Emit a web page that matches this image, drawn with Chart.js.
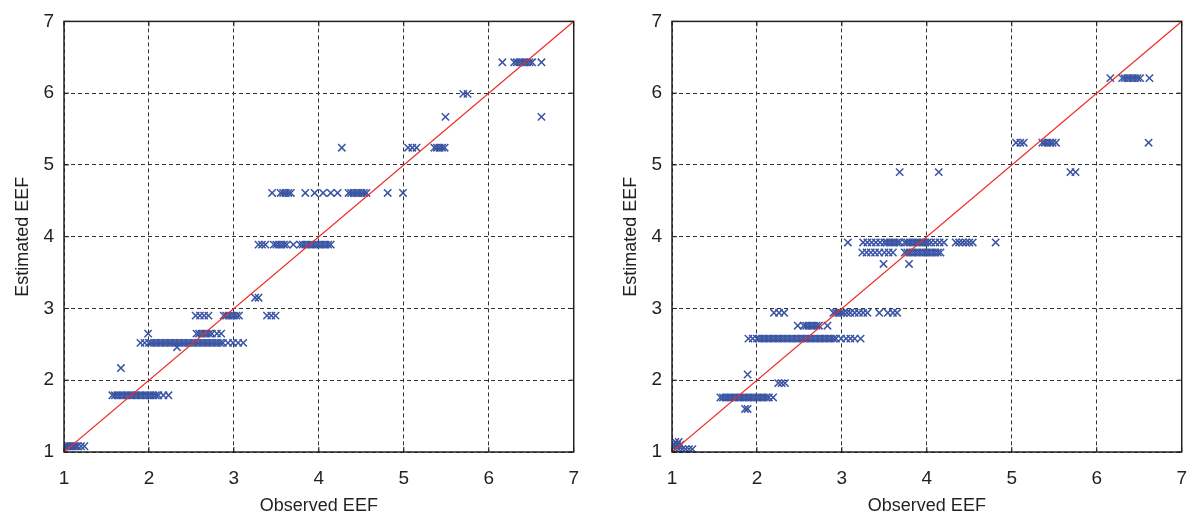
<!DOCTYPE html>
<html>
<head>
<meta charset="utf-8">
<script src="https://cdn.jsdelivr.net/npm/chart.js@4/dist/chart.umd.min.js"></script>
<style>
  body { margin: 0; background: #fff; overflow: hidden; }
  canvas { position: absolute; top: 0; }
  #leftChart { left: 0; }
  #rightChart { left: 608px; }
</style>
</head>
<body>
<canvas id="leftChart" width="594" height="515"></canvas>
<canvas id="rightChart" width="594" height="515"></canvas>
<script>
// axis ticks shared by both panels
var tickValues = [1, 2, 3, 4, 5, 6, 7];
var xTitle = "Observed EEF";
var yTitle = "Estimated EEF";

// left panel: estimated EEF levels and the observed EEF values at each level
var leftLevels = [1.08, 1.79, 2.17, 2.46, 2.52, 2.65, 2.9, 3.15, 3.89, 4.61, 5.24, 5.67, 5.99, 6.43];
var leftObs = [
  [1.00, 1.02, 1.04, 1.06, 1.08, 1.10, 1.12, 1.14, 1.16, 1.20, 1.24],
  [1.57, 1.60, 1.63, 1.66, 1.69, 1.72, 1.75, 1.78, 1.81, 1.84, 1.87, 1.90, 1.93, 1.96, 1.99, 2.02, 2.05, 2.08, 2.11, 2.17, 2.23],
  [1.67],
  [2.33],
  [1.90, 1.95, 2.00, 2.03, 2.06, 2.09, 2.12, 2.15, 2.18, 2.21, 2.24, 2.27, 2.30, 2.33, 2.36, 2.39, 2.42, 2.45, 2.48, 2.51, 2.54, 2.57, 2.60, 2.63, 2.66, 2.69, 2.72, 2.75, 2.78, 2.81, 2.84, 2.87, 2.93, 2.99, 3.05, 3.11],
  [1.99, 2.56, 2.59, 2.62, 2.65, 2.68, 2.71, 2.74, 2.80, 2.85],
  [2.55, 2.60, 2.65, 2.70, 2.88, 2.91, 2.94, 2.97, 3.00, 3.03, 3.06, 3.39, 3.44, 3.49],
  [3.25, 3.29],
  [3.29, 3.33, 3.37, 3.47, 3.50, 3.53, 3.56, 3.59, 3.62, 3.70, 3.78, 3.81, 3.84, 3.87, 3.90, 3.93, 3.96, 3.99, 4.02, 4.05, 4.08, 4.11, 4.14],
  [3.45, 3.55, 3.58, 3.61, 3.64, 3.67, 3.84, 3.95, 4.05, 4.14, 4.22, 4.35, 4.38, 4.41, 4.44, 4.47, 4.50, 4.53, 4.56, 4.81, 4.99],
  [4.27, 5.05, 5.10, 5.15, 5.36, 5.39, 5.42, 5.45, 5.48],
  [5.49, 6.62],
  [5.70, 5.75],
  [6.16, 6.30, 6.33, 6.36, 6.39, 6.42, 6.45, 6.48, 6.51, 6.62]
];

// right panel
var rightLevels = [1.04, 1.10, 1.14, 1.6, 1.76, 1.96, 2.08, 2.58, 2.76, 2.94, 3.62, 3.78, 3.92, 4.9, 5.31, 6.21];
var rightObs = [
  [1.00, 1.04, 1.08, 1.12, 1.16, 1.20, 1.24],
  [1.02, 1.06, 1.10],
  [1.04, 1.08],
  [1.86, 1.89],
  [1.57, 1.60, 1.63, 1.66, 1.69, 1.72, 1.75, 1.78, 1.81, 1.84, 1.87, 1.90, 1.93, 1.96, 1.99, 2.02, 2.05, 2.08, 2.11, 2.14, 2.19],
  [2.25, 2.29, 2.33],
  [1.89],
  [1.90, 1.95, 2.00, 2.03, 2.06, 2.09, 2.12, 2.15, 2.18, 2.21, 2.24, 2.27, 2.30, 2.33, 2.36, 2.39, 2.42, 2.45, 2.48, 2.51, 2.54, 2.57, 2.60, 2.63, 2.66, 2.69, 2.72, 2.75, 2.78, 2.81, 2.84, 2.87, 2.90, 2.93, 2.99, 3.05, 3.10, 3.15, 3.22],
  [2.48, 2.55, 2.58, 2.61, 2.64, 2.67, 2.70, 2.73, 2.83],
  [2.20, 2.26, 2.32, 2.90, 2.93, 2.96, 2.99, 3.02, 3.06, 3.10, 3.15, 3.20, 3.25, 3.30, 3.44, 3.54, 3.60, 3.65],
  [3.49, 3.79],
  [3.24, 3.29, 3.34, 3.39, 3.44, 3.50, 3.55, 3.60, 3.74, 3.77, 3.80, 3.83, 3.86, 3.89, 3.92, 3.95, 3.98, 4.01, 4.04, 4.07, 4.10, 4.13, 4.16],
  [3.07, 3.25, 3.30, 3.35, 3.40, 3.45, 3.50, 3.53, 3.56, 3.59, 3.62, 3.65, 3.68, 3.74, 3.77, 3.80, 3.83, 3.86, 3.89, 3.92, 3.95, 3.98, 4.01, 4.05, 4.10, 4.15, 4.20, 4.34, 4.38, 4.42, 4.46, 4.50, 4.54, 4.81],
  [3.68, 4.14, 5.69, 5.75],
  [5.05, 5.10, 5.14, 5.36, 5.39, 5.42, 5.45, 5.48, 5.52, 6.61],
  [6.16, 6.30, 6.33, 6.36, 6.39, 6.42, 6.45, 6.48, 6.51, 6.62]
];

// the y = x reference line
var diagX = [1, 7];
var diagY = [1, 7];

function toPoints(levels, obs) {
  var pts = [];
  levels.forEach(function (lv, i) {
    obs[i].forEach(function (x) { pts.push({ x: x, y: lv }); });
  });
  return pts;
}

// solid frame + little inside ticks, like the matlab box
var framePlugin = {
  id: "frame",
  afterDraw: function (chart) {
    var a = chart.chartArea, c = chart.ctx;
    var xs = chart.scales.x, ys = chart.scales.y;
    c.save();
    c.strokeStyle = "#222";
    c.lineWidth = 1.5;
    c.strokeRect(a.left, a.top, a.right - a.left, a.bottom - a.top);
    c.lineWidth = 1;
    c.beginPath();
    tickValues.forEach(function (v) {
      var px = xs.getPixelForValue(v), py = ys.getPixelForValue(v);
      c.moveTo(px, a.bottom); c.lineTo(px, a.bottom - 5);
      c.moveTo(px, a.top); c.lineTo(px, a.top + 5);
      c.moveTo(a.left, py); c.lineTo(a.left + 5, py);
      c.moveTo(a.right, py); c.lineTo(a.right - 5, py);
    });
    c.stroke();
    c.restore();
  }
};

function axis(titleText, isY) {
  return {
    type: "linear",
    min: 1,
    max: 7,
    afterBuildTicks: function (s) { s.ticks = tickValues.map(function (v) { return { value: v }; }); },
    afterFit: function (s) {
      if (isY) s.width = 64; else s.height = 63;
    },
    grid: { color: "#333", lineWidth: 1, drawTicks: false },
    border: { display: false, dash: [4, 3] },
    ticks: {
      color: "#231f20",
      padding: isY ? 10 : 15,
      font: { family: "Liberation Sans, Arial, sans-serif", size: 19 }
    },
    title: {
      display: true,
      text: titleText,
      color: "#231f20",
      padding: isY ? { top: 12, bottom: 0 } : { top: 0, bottom: -2 },
      font: { family: "Liberation Sans, Arial, sans-serif", size: 18 }
    }
  };
}

function makeChart(id, levels, obs) {
  var ctx = document.getElementById(id).getContext("2d");
  return new Chart(ctx, {
    type: "scatter",
    data: {
      datasets: [
        {
          data: toPoints(levels, obs),
          pointStyle: "crossRot",
          pointRadius: 5.2,
          borderColor: "#3a54a4",
          backgroundColor: "#3a54a4",
          borderWidth: 1.5,
          order: 2
        },
        {
          type: "line",
          data: diagX.map(function (x, i) { return { x: x, y: diagY[i] }; }),
          borderColor: "#ee2a24",
          borderWidth: 1.2,
          pointRadius: 0,
          fill: false,
          order: 1
        }
      ]
    },
    options: {
      responsive: false,
      animation: false,
      devicePixelRatio: 1,
      layout: { padding: { top: 20, right: 12, left: 0, bottom: 0 } },
      plugins: { legend: { display: false }, tooltip: { enabled: false } },
      scales: {
        x: axis(xTitle, false),
        y: axis(yTitle, true)
      }
    },
    plugins: [framePlugin]
  });
}

makeChart("leftChart", leftLevels, leftObs);
makeChart("rightChart", rightLevels, rightObs);
</script>
</body>
</html>
